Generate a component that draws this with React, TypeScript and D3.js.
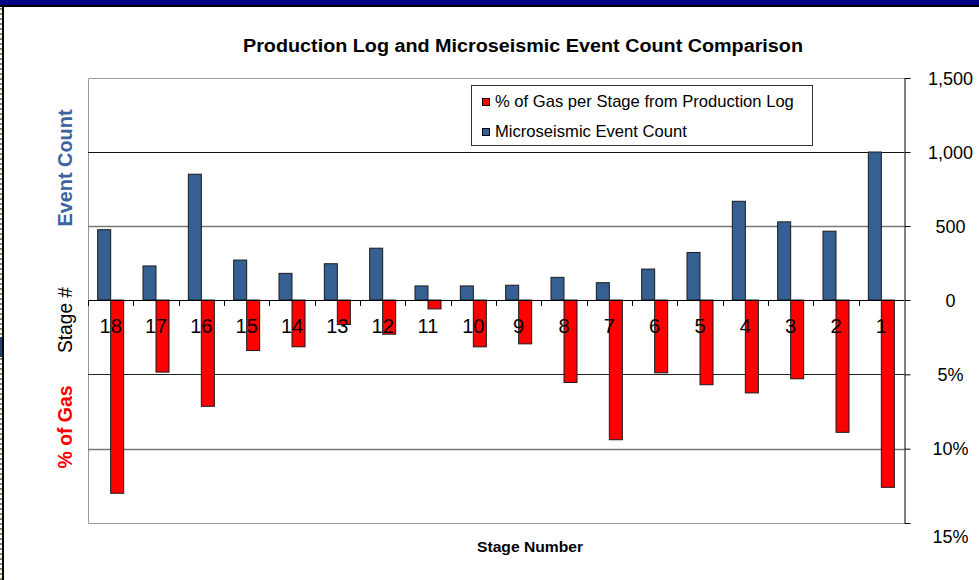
import React, { useEffect, useRef } from "react";
import * as d3 from "d3";

// stage order as plotted, left to right
const stages = ["18", "17", "16", "15", "14", "13", "12", "11", "10", "9", "8", "7", "6", "5", "4", "3", "2", "1"];
const eventCount = [475, 230, 850, 270, 180, 245, 350, 95, 95, 100, 153, 117, 209, 321, 667, 528, 465, 1000];
const gasPct = [13.0, 4.85, 7.15, 3.4, 3.15, 1.65, 2.3, 0.6, 3.15, 2.95, 5.55, 9.4, 4.9, 5.7, 6.25, 5.3, 8.9, 12.6];
const countTicks = [0, 500, 1000, 1500];
const pctTicks = [5, 10, 15];

const W = 979;
const H = 580;

const App = () => {
  const svgRef = useRef<SVGSVGElement>(null);

  useEffect(() => {
    const svg = d3.select(svgRef.current);
    svg.selectAll("*").remove();

    const left = 88;
    const right = 904;
    const top = 78;
    const zero = 300;
    const bottom = 523;
    const font = "'Liberation Sans', Arial, sans-serif";

    svg.append("rect").attr("width", W).attr("height", H).attr("fill", "white");

    // window frame bits
    svg.append("rect").attr("x", 0).attr("y", 0).attr("width", W).attr("height", 5).attr("fill", "#000080");
    svg.append("rect").attr("x", 0).attr("y", 5).attr("width", W).attr("height", 2).attr("fill", "#000");
    svg.append("rect").attr("x", 2).attr("y", 5).attr("width", 2).attr("height", H).attr("fill", "#000");
    svg
      .append("line")
      .attr("x1", 1)
      .attr("x2", 1)
      .attr("y1", 8)
      .attr("y2", H)
      .attr("stroke", "#8a8a6a")
      .attr("stroke-width", 2)
      .attr("stroke-dasharray", "2,3");
    svg.append("rect").attr("x", 0).attr("y", 337).attr("width", 2).attr("height", 20).attr("fill", "#23406e");

    const x = d3.scaleBand().domain(stages).range([left, right]).paddingInner(0).paddingOuter(0);
    const yCount = d3.scaleLinear().domain([0, 1500]).range([zero, top]);
    const yPct = d3.scaleLinear().domain([0, 15]).range([zero, bottom]);

    // plot area border
    svg
      .append("path")
      .attr("d", `M${right},${top + 0.5}H${left + 0.5}V${bottom + 0.5}H${right}`)
      .attr("fill", "none")
      .attr("stroke", "#999");

    // gridlines
    const grids = [
      { y: yCount(1000), c: "#111" },
      { y: yCount(500), c: "#777" },
      { y: yPct(5), c: "#222" },
      { y: yPct(10), c: "#777" },
    ];
    svg
      .selectAll(".grid")
      .data(grids)
      .enter()
      .append("line")
      .attr("x1", left)
      .attr("x2", right)
      .attr("y1", (d) => Math.round(d.y) + 0.5)
      .attr("y2", (d) => Math.round(d.y) + 0.5)
      .attr("stroke", (d) => d.c)
      .attr("stroke-width", (d) => (d.c === "#777" ? 1.5 : 1));

    const bw = 13;

    // event count bars
    svg
      .selectAll(".count")
      .data(stages)
      .enter()
      .append("rect")
      .attr("x", (d) => x(d)! + x.bandwidth() / 2 - bw)
      .attr("y", (d, i) => yCount(eventCount[i]))
      .attr("width", bw)
      .attr("height", (d, i) => zero - yCount(eventCount[i]))
      .attr("fill", "#376092")
      .attr("stroke", "#1a1a1a")
      .attr("stroke-width", 1);

    // gas bars
    svg
      .selectAll(".gas")
      .data(stages)
      .enter()
      .append("rect")
      .attr("x", (d) => x(d)! + x.bandwidth() / 2)
      .attr("y", zero)
      .attr("width", bw)
      .attr("height", (d, i) => yPct(gasPct[i]) - zero)
      .attr("fill", "#ff0000")
      .attr("stroke", "#1a1a1a")
      .attr("stroke-width", 1);

    // zero axis with category ticks
    svg
      .append("line")
      .attr("x1", left)
      .attr("x2", right)
      .attr("y1", zero + 0.5)
      .attr("y2", zero + 0.5)
      .attr("stroke", "#000");
    svg
      .selectAll(".ctick")
      .data(stages)
      .enter()
      .append("line")
      .attr("x1", (d) => Math.round(x(d)!) + 0.5)
      .attr("x2", (d) => Math.round(x(d)!) + 0.5)
      .attr("y1", zero)
      .attr("y2", zero + 6)
      .attr("stroke", "#000");

    // stage labels
    svg
      .selectAll(".slabel")
      .data(stages)
      .enter()
      .append("text")
      .attr("x", (d) => x(d)! + x.bandwidth() / 2)
      .attr("y", 333)
      .attr("text-anchor", "middle")
      .style("font-family", font)
      .style("font-size", "20px")
      .attr("fill", "#000")
      .text((d) => d);

    // right axis
    const axisG = svg.append("g").attr("transform", `translate(${right + 0.5},0)`);
    axisG
      .append("g")
      .call(d3.axisRight(yCount).tickValues(countTicks).tickFormat(d3.format(",")).tickSize(6).tickSizeOuter(0));
    axisG
      .append("g")
      .call(d3.axisRight(yPct).tickValues(pctTicks).tickFormat((d) => `${d}%`).tickSize(6).tickSizeOuter(0));
    axisG.selectAll(".domain").attr("stroke", "#000");
    axisG.selectAll(".tick line").attr("stroke", "#000");
    axisG
      .selectAll(".tick text")
      .attr("x", 46)
      .attr("text-anchor", "middle")
      .attr("dy", (d: any) => (d === 15 ? "1.1em" : "0.35em"))
      .attr("fill", "#000")
      .style("font-family", font)
      .style("font-size", "18px");

    // legend
    const lg = svg.append("g").attr("transform", "translate(471,85)");
    lg.append("rect").attr("x", 0.5).attr("y", 0.5).attr("width", 341).attr("height", 60).attr("fill", "white").attr("stroke", "#333");
    const legendItems = [
      { label: "% of Gas per Stage from Production Log", color: "#ff0000" },
      { label: "Microseismic Event Count", color: "#376092" },
    ];
    legendItems.forEach((it, i) => {
      lg.append("rect")
        .attr("x", 11.5)
        .attr("y", 13.5 + i * 30)
        .attr("width", 7)
        .attr("height", 7)
        .attr("fill", it.color)
        .attr("stroke", "#000");
      lg.append("text")
        .attr("x", 24)
        .attr("y", 22 + i * 30)
        .style("font-family", font)
        .style("font-size", "16.6px")
        .attr("fill", "#000")
        .text(it.label);
    });

    // title
    svg
      .append("text")
      .attr("x", 243)
      .attr("y", 52)
      .attr("textLength", 560)
      .attr("lengthAdjust", "spacingAndGlyphs")
      .style("font-family", font)
      .style("font-size", "18px")
      .style("font-weight", "bold")
      .attr("fill", "#000")
      .text("Production Log and Microseismic Event Count Comparison");

    // x axis title
    svg
      .append("text")
      .attr("x", 477)
      .attr("y", 552)
      .attr("textLength", 106)
      .attr("lengthAdjust", "spacingAndGlyphs")
      .style("font-family", font)
      .style("font-size", "14px")
      .style("font-weight", "bold")
      .attr("fill", "#000")
      .text("Stage Number");

    // left side labels (rotated)
    const sideLabels = [
      { text: "Event Count", cy: 168, len: 117, color: "#3d64a0", bold: true },
      { text: "Stage #", cy: 320, len: 66, color: "#000", bold: false },
      { text: "% of Gas", cy: 427, len: 83, color: "#ff0000", bold: true },
    ];
    sideLabels.forEach((s) => {
      svg
        .append("text")
        .attr("transform", `translate(72,${s.cy + s.len / 2}) rotate(-90)`)
        .attr("x", 0)
        .attr("y", 0)
        .attr("textLength", s.len)
        .attr("lengthAdjust", "spacingAndGlyphs")
        .style("font-family", font)
        .style("font-size", "20px")
        .style("font-weight", s.bold ? "bold" : "normal")
        .attr("fill", s.color)
        .text(s.text);
    });
  }, []);

  return (
    <svg
      ref={svgRef}
      width={W}
      height={H}
      style={{ position: "absolute", left: 0, top: 0, display: "block" }}
    ></svg>
  );
};

export default App;
